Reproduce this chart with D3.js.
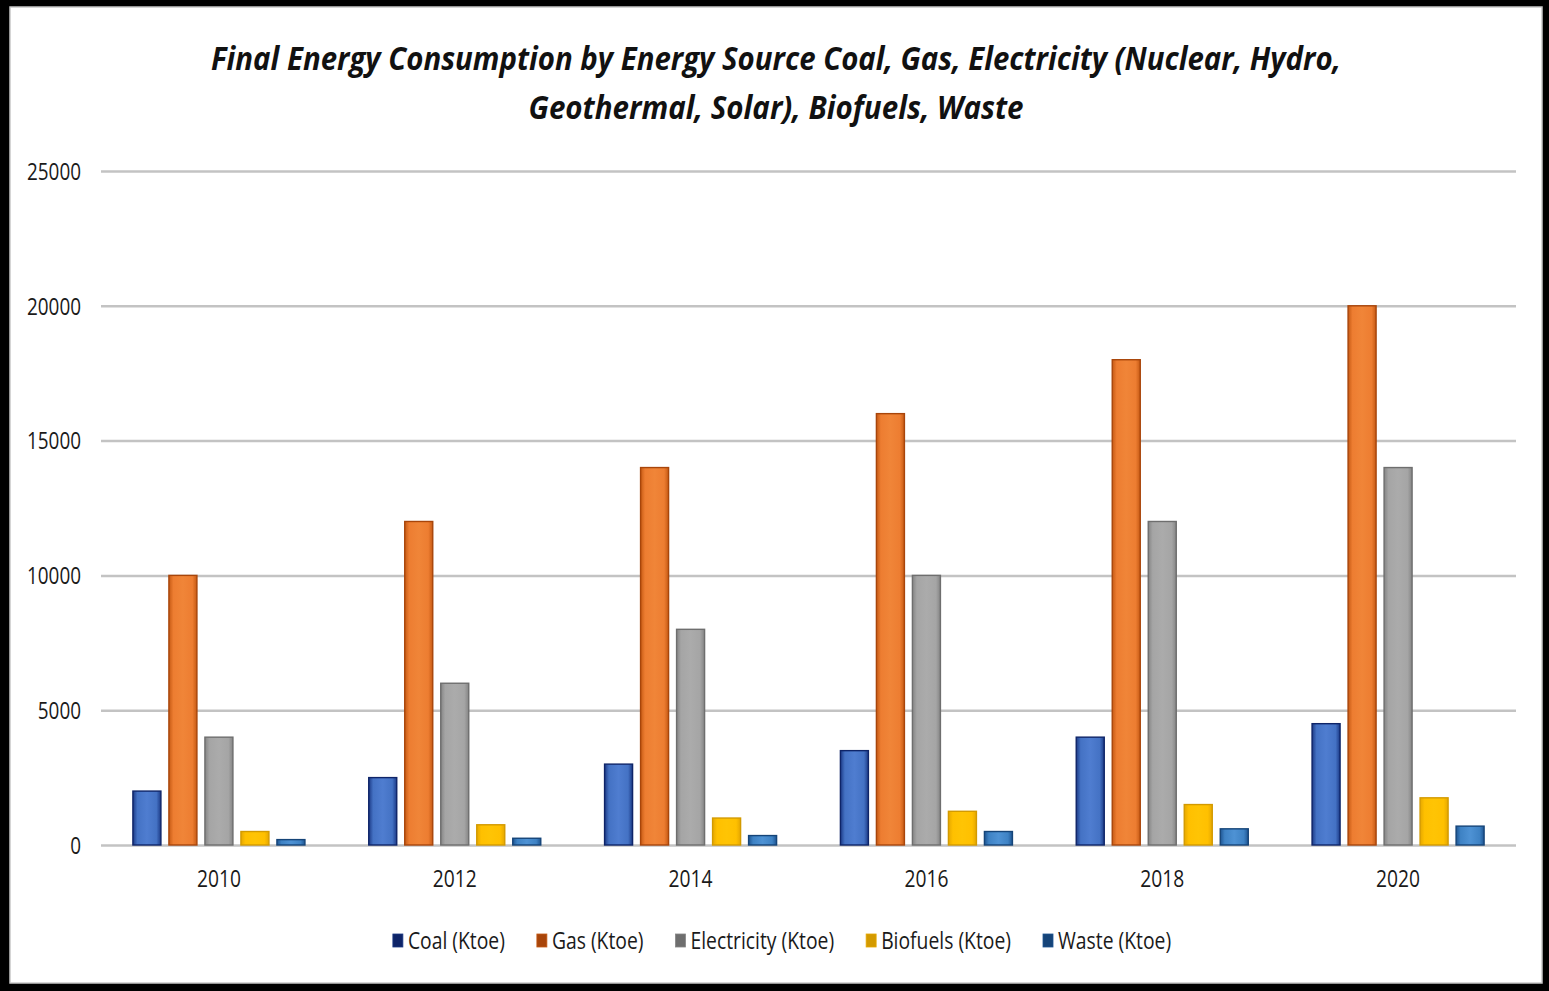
<!DOCTYPE html>
<html>
<head>
<meta charset="utf-8">
<script src="https://cdn.jsdelivr.net/npm/d3@7"></script>
<style>
  html, body { margin: 0; padding: 0; background: #000; }
  svg { display: block; }
</style>
</head>
<body>
<svg id="chart" width="1549" height="991"></svg>
<script>
// Final energy consumption by source, in kilotonnes of oil equivalent
const years = ['2010', '2012', '2014', '2016', '2018', '2020'];
const coal = [2000, 2500, 3000, 3500, 4000, 4500];
const gas = [10000, 12000, 14000, 16000, 18000, 20000];
const electricity = [4000, 6000, 8000, 10000, 12000, 14000];
const biofuels = [500, 750, 1000, 1250, 1500, 1750];
const waste = [200, 250, 350, 500, 600, 700];
const seriesNames = ['Coal (Ktoe)', 'Gas (Ktoe)', 'Electricity (Ktoe)', 'Biofuels (Ktoe)', 'Waste (Ktoe)'];
const yTicks = [0, 5000, 10000, 15000, 20000, 25000];
const titleLines = [
  'Final Energy Consumption  by Energy Source Coal, Gas, Electricity (Nuclear, Hydro,',
  'Geothermal, Solar), Biofuels, Waste'
];

const seriesValues = [coal, gas, electricity, biofuels, waste];
const series = seriesNames.map((name, i) => ({ name, values: seriesValues[i] }));

// fill: base, centre highlight, edge shade
const palette = [
  { base: '#4472C4', light: '#4F7DD0', edge: '#1C3A86', stroke: '#0E2468' },
  { base: '#ED7D31', light: '#F08538', edge: '#C65A14', stroke: '#A8450A' },
  { base: '#A5A5A5', light: '#ABABAB', edge: '#858585', stroke: '#6E6E6E' },
  { base: '#FFC000', light: '#FFC404', edge: '#E6A800', stroke: '#D39A00' },
  { base: '#3E82C4', light: '#4E92D4', edge: '#1E5592', stroke: '#154478' }
];

const svg = d3.select('#chart');
const W = 1549, H = 991;

// frame
svg.append('rect').attr('x', 0).attr('y', 0).attr('width', W).attr('height', H).attr('fill', '#000');
svg.append('rect').attr('x', 10).attr('y', 7).attr('width', 1532).attr('height', 976)
  .attr('fill', '#fff').attr('stroke', '#c8c8c8').attr('stroke-width', 1.5);

const defs = svg.append('defs');
palette.forEach((p, i) => {
  const g = defs.append('linearGradient').attr('id', 'grad' + i)
    .attr('x1', '0').attr('x2', '1').attr('y1', '0').attr('y2', '0');
  g.append('stop').attr('offset', '0%').attr('stop-color', p.edge);
  g.append('stop').attr('offset', '16%').attr('stop-color', p.base);
  g.append('stop').attr('offset', '50%').attr('stop-color', p.light);
  g.append('stop').attr('offset', '84%').attr('stop-color', p.base);
  g.append('stop').attr('offset', '100%').attr('stop-color', p.edge);
});

const plotLeft = 101, plotRight = 1516, plotTop = 171, plotBottom = 845;

const x0 = d3.scaleBand().domain(years).range([plotLeft, plotRight]).paddingInner(0).paddingOuter(0);
const x1 = d3.scaleBand().domain(seriesNames).range([0, x0.bandwidth()])
  .paddingInner(0.222).paddingOuter(0.886);
const y = d3.scaleLinear().domain([0, 25000]).range([plotBottom, plotTop]);

const labelFont = '"Open Sans", "Noto Sans", sans-serif';

// squeeze a set of labels to a narrow face: scale all of them by the same
// factor so that the reference string ends up with the given width
function condense(selection, refWidth, refIndex) {
  const lens = [];
  selection.each(function () { lens.push(this.getComputedTextLength()); });
  const k = refWidth / lens[refIndex];
  selection.each(function (d, i) {
    d3.select(this).attr('textLength', lens[i] * k).attr('lengthAdjust', 'spacingAndGlyphs');
  });
}

// gridlines
const yAxis = d3.axisLeft(y).tickValues(yTicks).tickSize(-(plotRight - plotLeft)).tickPadding(20).tickFormat(d3.format('d'));
const gy = svg.append('g').attr('transform', `translate(${plotLeft},0)`).call(yAxis);
gy.select('.domain').remove();
gy.selectAll('.tick line').attr('stroke', '#c3c3c3').attr('stroke-width', 2.5);
const yLabels = gy.selectAll('.tick text').attr('font-family', labelFont).attr('font-size', 23)
  .attr('fill', '#1a1a1a').attr('dy', '0.36em');
condense(yLabels, 54, yTicks.length - 1);

// x-axis labels
const xAxis = d3.axisBottom(x0).tickSize(0).tickPadding(26);
const gx = svg.append('g').attr('transform', `translate(0,${plotBottom})`).call(xAxis);
gx.select('.domain').remove();
const xLabels = gx.selectAll('.tick text').attr('font-family', labelFont).attr('font-size', 23).attr('fill', '#1a1a1a');
condense(xLabels, 44, 0);

// bars
const groups = svg.append('g').selectAll('g').data(years).join('g')
  .attr('transform', d => `translate(${x0(d)},0)`);
groups.selectAll('rect')
  .data((yr, yi) => series.map((s, si) => ({ name: s.name, si, value: s.values[yi] })))
  .join('rect')
  .attr('x', d => x1(d.name))
  .attr('y', d => y(d.value))
  .attr('width', x1.bandwidth())
  .attr('height', d => y(0) - y(d.value))
  .attr('fill', d => `url(#grad${d.si})`)
  .attr('stroke', d => palette[d.si].stroke)
  .attr('stroke-width', 1.4);

// title
const title = svg.append('g');
const titleSpec = [
  { text: titleLines[0], y: 70, len: 1130 },
  { text: titleLines[1], y: 119, len: 495 }
];
titleSpec.forEach(t => {
  title.append('text')
    .attr('x', 776).attr('y', t.y)
    .attr('text-anchor', 'middle')
    .attr('font-family', '"Open Sans", "Noto Sans", sans-serif')
    .attr('font-style', 'italic').attr('font-weight', 700)
    .attr('font-size', 32)
    .attr('fill', '#111')
    .attr('textLength', t.len).attr('lengthAdjust', 'spacingAndGlyphs')
    .text(t.text);
});

// legend
const legend = svg.append('g');
const items = legend.selectAll('g').data(series).join('g');
items.append('rect').attr('width', 10).attr('height', 13).attr('y', -7)
  .attr('fill', (d, i) => palette[i].stroke).attr('stroke', (d, i) => palette[i].edge).attr('stroke-width', 0.8);
const legendText = items.append('text').attr('x', 15).attr('dy', '0.35em')
  .attr('font-family', labelFont).attr('font-size', 23).attr('fill', '#1a1a1a')
  .text(d => d.name);
condense(legendText, 97, 0);
let offset = 0;
const positions = [];
items.each(function () {
  const w = 15 + (+this.querySelector('text').getAttribute('textLength'));
  positions.push(offset);
  offset += w + 32;
});
const total = offset - 32;
const startX = 782 - total / 2;
items.attr('transform', (d, i) => `translate(${startX + positions[i]},941)`);
</script>
</body>
</html>
